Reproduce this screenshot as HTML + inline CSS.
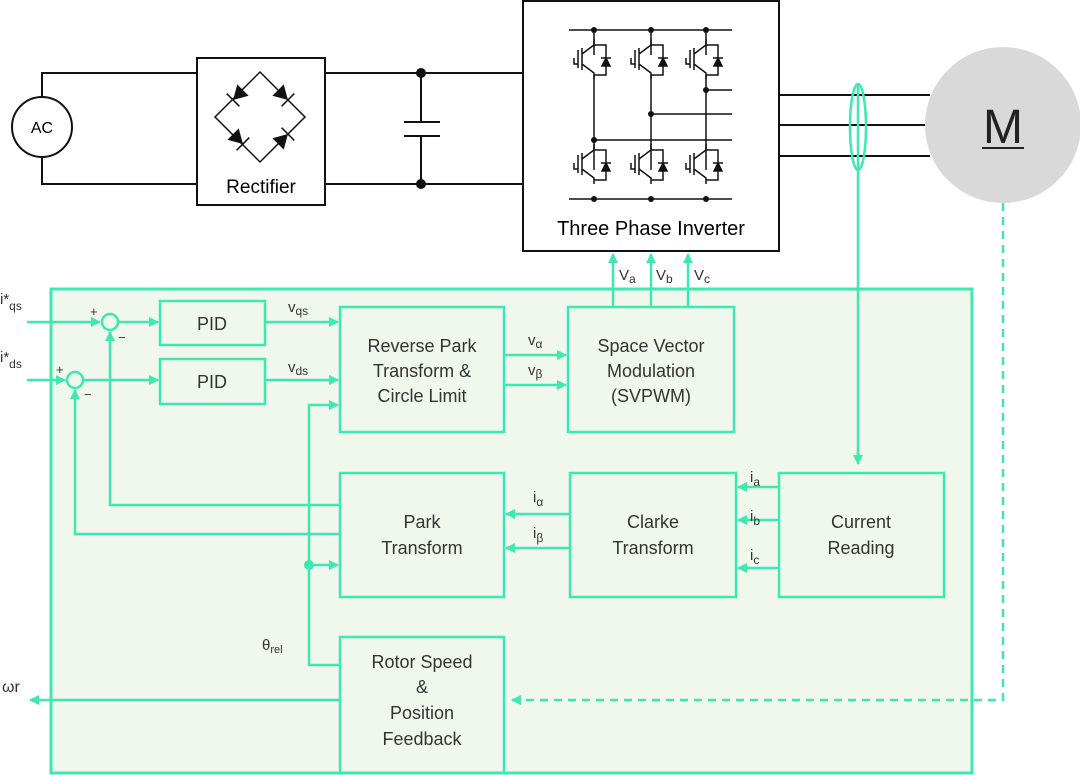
<!DOCTYPE html><html><head><style>body{margin:0;background:#fff}svg{display:block}</style></head><body>
<svg width="1080" height="775" viewBox="0 0 1080 775" font-family="Liberation Sans, sans-serif">
<defs>
<marker id="a" markerWidth="10" markerHeight="10" refX="9" refY="5" orient="auto" markerUnits="userSpaceOnUse"><path d="M0,0L10,5L0,10z" fill="#3ee8b0"/></marker>
<g id="igbt" stroke="#111" stroke-width="1.5" fill="none"><path d="M-16,-10v18M-12,-12v22M-12,-6l12,-9v-6M-12,4l12,9v6M0,-15h12v30h-12"/><path d="M7,-2h10M8,6l4,-8l4,8z" fill="#111"/><path d="M-20,-2v6h4"/></g>
<g id="dio"><path d="M-7,-8L7,0L-7,8z" fill="#111"/><path d="M7,-9V9" stroke="#111" stroke-width="1.5"/></g>
</defs>
<!-- power section -->
<g stroke="#111" stroke-width="2" fill="none">
<circle cx="42" cy="127" r="30" fill="#fff"/>
<path d="M42,97V73H197M42,157V184H197M325,73H523M325,184H523M421,73V122M421,136V184M404,122H440M404,136H440"/>
<rect x="197" y="58" width="128" height="147" fill="#fff"/>
<path d="M260,72L215,117L260,162L305,117Z" stroke-width="1.5"/>
<rect x="523" y="1" width="256" height="250" fill="#fff"/>
<path d="M779,95H930M779,125H930M779,156H930"/>
</g>
<circle cx="421" cy="73" r="5" fill="#111"/><circle cx="421" cy="184" r="5" fill="#111"/>
<use href="#dio" transform="translate(238,95) rotate(135)"/>
<use href="#dio" transform="translate(283,95) rotate(45)"/>
<use href="#dio" transform="translate(238,139) rotate(45)"/>
<use href="#dio" transform="translate(283,139) rotate(-45)"/>
<text x="42" y="133" font-size="16" text-anchor="middle">AC</text>
<text x="261" y="193" font-size="19" text-anchor="middle">Rectifier</text>
<!-- inverter -->
<g stroke="#111" stroke-width="1.5" fill="none">
<path d="M569,30H732M569,199H732M594,30V55M594,75V170M651,30V55M651,75V170M706,30V55M706,75V170M594,140H732M651,114H732M706,90H732"/>
</g>
<use href="#igbt" x="594" y="60"/><use href="#igbt" x="651" y="60"/><use href="#igbt" x="706" y="60"/>
<use href="#igbt" x="594" y="165"/><use href="#igbt" x="651" y="165"/><use href="#igbt" x="706" y="165"/>
<g fill="#111"><circle cx="594" cy="30" r="3"/><circle cx="651" cy="30" r="3"/><circle cx="706" cy="30" r="3"/><circle cx="594" cy="199" r="3"/><circle cx="651" cy="199" r="3"/><circle cx="706" cy="199" r="3"/><circle cx="594" cy="140" r="3"/><circle cx="651" cy="114" r="3"/><circle cx="706" cy="90" r="3"/></g>
<text x="651" y="235" font-size="20" text-anchor="middle">Three Phase Inverter</text>
<circle cx="1003" cy="125" r="78" fill="#d9d9d9"/>
<text x="1003" y="143" font-size="48" text-anchor="middle" fill="#222">M</text>
<path d="M982,148H1024" stroke="#222" stroke-width="2"/>
<!-- control -->
<rect x="51" y="289" width="921" height="484" fill="#f0f8ee" stroke="#3ee8b0" stroke-width="3"/>
<g stroke="#3ee8b0" stroke-width="2.5" fill="none">
<ellipse cx="858" cy="127" rx="8" ry="43"/>
<path d="M858,85V464" marker-end="url(#a)"/>
<path d="M1003,203V700H512" stroke-dasharray="8,6" marker-end="url(#a)"/>
<rect x="160" y="301" width="105" height="44"/><rect x="160" y="359" width="105" height="45"/>
<rect x="340" y="307" width="164" height="125"/><rect x="568" y="307" width="166" height="125"/>
<rect x="340" y="473" width="164" height="124"/><rect x="570" y="473" width="166" height="124"/>
<rect x="779" y="473" width="165" height="124"/><rect x="340" y="637" width="164" height="136"/>
<circle cx="110" cy="322" r="8"/><circle cx="75" cy="380" r="8"/>
<path d="M27,322H100" marker-end="url(#a)"/><path d="M118,322H158" marker-end="url(#a)"/>
<path d="M27,380H65" marker-end="url(#a)"/><path d="M83,380H158" marker-end="url(#a)"/>
<path d="M265,322H338" marker-end="url(#a)"/><path d="M265,380H338" marker-end="url(#a)"/>
<path d="M340,505H110V332" marker-end="url(#a)"/><path d="M340,534H75V390" marker-end="url(#a)"/>
<path d="M340,665H309V405H338" marker-end="url(#a)"/><path d="M309,565H338" marker-end="url(#a)"/>
<path d="M340,700H30" marker-end="url(#a)"/>
<path d="M504,355H566" marker-end="url(#a)"/><path d="M504,385H566" marker-end="url(#a)"/>
<path d="M570,514H506" marker-end="url(#a)"/><path d="M570,548H506" marker-end="url(#a)"/>
<path d="M779,487H738" marker-end="url(#a)"/><path d="M779,520H738" marker-end="url(#a)"/><path d="M779,568H738" marker-end="url(#a)"/>
<path d="M613,307V254" marker-end="url(#a)"/><path d="M651,307V254" marker-end="url(#a)"/><path d="M688,307V254" marker-end="url(#a)"/>
</g>
<circle cx="309" cy="565" r="5" fill="#3ee8b0"/>
<g font-size="18" fill="#333" text-anchor="middle">
<text x="212" y="330">PID</text><text x="212" y="388">PID</text>
<text x="422" y="352">Reverse Park</text><text x="422" y="377">Transform &amp;</text><text x="422" y="402">Circle Limit</text>
<text x="651" y="352">Space Vector</text><text x="651" y="377">Modulation</text><text x="651" y="402">(SVPWM)</text>
<text x="422" y="528">Park</text><text x="422" y="554">Transform</text>
<text x="653" y="528">Clarke</text><text x="653" y="554">Transform</text>
<text x="861" y="528">Current</text><text x="861" y="554">Reading</text>
<text x="422" y="668">Rotor Speed</text><text x="422" y="693">&amp;</text><text x="422" y="719">Position</text><text x="422" y="745">Feedback</text>
</g>
<g font-size="15" fill="#333">
<text x="0" y="304">i*<tspan font-size="12" dy="6">qs</tspan></text>
<text x="0" y="362">i*<tspan font-size="12" dy="6">ds</tspan></text>
<text x="90" y="316" font-size="13">+</text><text x="118" y="342" font-size="13">−</text>
<text x="56" y="374" font-size="13">+</text><text x="84" y="399" font-size="13">−</text>
<text x="288" y="312">v<tspan font-size="12" dy="3">qs</tspan></text>
<text x="288" y="372">v<tspan font-size="12" dy="3">ds</tspan></text>
<text x="528" y="345">v<tspan font-size="12" dy="3">α</tspan></text>
<text x="528" y="375">v<tspan font-size="12" dy="3">β</tspan></text>
<text x="533" y="502">i<tspan font-size="12" dy="4">α</tspan></text>
<text x="533" y="538">i<tspan font-size="12" dy="4">β</tspan></text>
<text x="750" y="482">i<tspan font-size="12" dy="4">a</tspan></text>
<text x="750" y="521">i<tspan font-size="12" dy="4">b</tspan></text>
<text x="750" y="560">i<tspan font-size="12" dy="4">c</tspan></text>
<text x="619" y="280">V<tspan font-size="12" dy="3">a</tspan></text>
<text x="656" y="280">V<tspan font-size="12" dy="3">b</tspan></text>
<text x="694" y="280">V<tspan font-size="12" dy="3">c</tspan></text>
<text x="262" y="650">θ<tspan font-size="11" dy="3">rel</tspan></text>
<text x="2" y="692" font-size="16">ωr</text>
</g>
</svg></body></html>
